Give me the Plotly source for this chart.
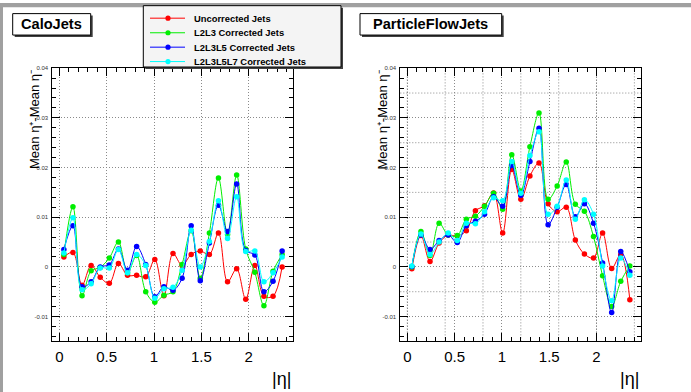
import plotly.graph_objects as go

W, H = 691, 392

# |eta| bin centres (25 bins of width 0.096 between 0 and 2.4)
eta = [0.048, 0.144, 0.240, 0.336, 0.432, 0.528, 0.624, 0.720, 0.816, 0.912,
       1.008, 1.104, 1.200, 1.296, 1.392, 1.488, 1.584, 1.680, 1.776, 1.872,
       1.968, 2.064, 2.160, 2.256, 2.352]

series_names = ["Uncorrected Jets", "L2L3 Corrected Jets",
                "L2L3L5 Corrected Jets", "L2L3L5L7 Corrected Jets"]
series_colors = ["#ff0000", "#00ee00", "#0000ff", "#00ffff"]

# CaloJets: Mean eta+ - Mean eta-
calo_uncorr = [0.0020, 0.0029, -0.0037, 0.0003, -0.0021, -0.0033, 0.0007, -0.0017, -0.0017, -0.0020,
               0.0015, -0.0058, 0.0027, 0.0003, 0.0025, 0.0032, 0.0025, 0.0068, -0.0030, -0.0004,
               -0.0065, 0.0003, -0.0059, -0.0059, 0.0000]
calo_l2l3 = [0.0025, 0.0121, -0.0058, -0.0008, -0.0001, 0.0018, 0.0050, -0.0012, 0.0023, -0.0050,
             -0.0071, -0.0057, -0.0050, 0.0005, 0.0073, -0.0023, 0.0068, 0.0179, 0.0065, 0.0185,
             0.0036, -0.0011, -0.0078, -0.0009, 0.0025]
calo_l2l3l5 = [0.0035, 0.0083, -0.0040, -0.0030, 0.0000, 0.0004, 0.0036, -0.0007, 0.0041, 0.0005,
               -0.0060, -0.0040, -0.0047, -0.0023, 0.0083, -0.0028, 0.0048, 0.0124, 0.0071, 0.0167,
               0.0033, 0.0024, -0.0050, -0.0029, 0.0032]
calo_l2l3l5l7 = [0.0028, 0.0099, -0.0046, -0.0034, -0.0002, -0.0002, 0.0035, -0.0012, 0.0025, 0.0003,
                 -0.0063, -0.0044, -0.0041, -0.0007, 0.0074, 0.0000, 0.0051, 0.0133, 0.0057, 0.0141,
                 0.0031, 0.0032, -0.0030, -0.0012, 0.0020]

# ParticleFlowJets: Mean eta+ - Mean eta-
pf_uncorr = [-0.0004, 0.0063, 0.0011, 0.0048, 0.0064, 0.0062, 0.0073, 0.0113, 0.0123, 0.0149,
             0.0068, 0.0196, 0.0136, 0.0183, 0.0209, 0.0127, 0.0111, 0.0120, 0.0054, 0.0026,
             0.0018, 0.0068, -0.0003, 0.0025, -0.0066]
pf_l2l3 = [0.0000, 0.0071, 0.0023, 0.0088, 0.0064, 0.0063, 0.0096, 0.0102, 0.0122, 0.0148,
           0.0116, 0.0226, 0.0153, 0.0242, 0.0310, 0.0136, 0.0163, 0.0211, 0.0126, 0.0112,
           0.0061, -0.0018, -0.0080, -0.0029, 0.0002]
pf_l2l3l5 = [0.0001, 0.0064, 0.0035, 0.0053, 0.0064, 0.0049, 0.0083, 0.0092, 0.0106, 0.0141,
             0.0122, 0.0204, 0.0144, 0.0212, 0.0279, 0.0085, 0.0120, 0.0166, 0.0101, 0.0127,
             0.0088, 0.0008, -0.0092, 0.0031, -0.0010]
pf_l2l3l5l7 = [0.0002, 0.0066, 0.0025, 0.0050, 0.0068, 0.0053, 0.0088, 0.0087, 0.0111, 0.0139,
               0.0133, 0.0212, 0.0148, 0.0224, 0.0272, 0.0106, 0.0122, 0.0175, 0.0096, 0.0135,
               0.0106, 0.0002, -0.0068, 0.0018, -0.0017]

x_tickvals = [0, 0.5, 1, 1.5, 2]
x_ticktext = ["0", "0.5", "1", "1.5", "2"]
y_tickvals = [-0.01, 0, 0.01, 0.02, 0.03, 0.04]
y_ticktext = ["-0.01", "0", "0.01", "0.02", "0.03", "0.04"]

Y_TITLE = "Mean \u03b7\u207a-Mean \u03b7\u207b"
X_TITLE = "|\u03b7|"

X_RANGE = [-0.074, 2.470]
Y_RANGE = [-0.015, 0.040]

FONT = "Liberation Sans, Arial, Helvetica, sans-serif"
GRID = "#8a8a8a"
GRID_DASH = "1px,2px"


def px_x(p):
    return p / W


def px_y(p):
    return 1 - p / H


fig = go.Figure()

panels = [
    ("x", "y", [calo_uncorr, calo_l2l3, calo_l2l3l5, calo_l2l3l5l7]),
    ("x2", "y2", [pf_uncorr, pf_l2l3, pf_l2l3l5, pf_l2l3l5l7]),
]
for xa, ya, data in panels:
    for name, color, vals in zip(series_names, series_colors, data):
        fig.add_trace(go.Scatter(
            x=eta, y=vals, xaxis=xa, yaxis=ya, name=name, showlegend=False,
            mode="lines+markers",
            line=dict(color=color, width=1, shape="spline", smoothing=1.0),
            marker=dict(color=color, size=5.5, symbol="circle"),
            hoverinfo="skip",
        ))

frame_top, frame_bot = 65.7, 341.0
domains_x = [(52.3, 293.3), (400.3, 641.0)]


def xaxis_cfg(dom):
    return dict(
        domain=[px_x(dom[0]), px_x(dom[1])], range=X_RANGE,
        showline=True, linecolor="black", linewidth=1, mirror="ticks",
        ticks="inside", ticklen=8, tickcolor="black", tickwidth=1,
        tickvals=x_tickvals, ticktext=x_ticktext,
        tickfont=dict(family=FONT, size=15, color="black"),
        ticklabelstandoff=2,
        showgrid=True, gridcolor=GRID, griddash=GRID_DASH, gridwidth=1,
        zeroline=False,
        minor=dict(ticks="inside", ticklen=4, dtick=0.1, tick0=0, tickcolor="black", showgrid=False),
    )


def yaxis_cfg(anchor):
    return dict(
        domain=[px_y(frame_bot), px_y(frame_top)], range=Y_RANGE, anchor=anchor,
        showline=True, linecolor="black", linewidth=1, mirror="ticks",
        ticks="inside", ticklen=8, tickcolor="black", tickwidth=1,
        tickvals=y_tickvals, ticktext=y_ticktext,
        tickfont=dict(family=FONT, size=6, color="#333333"),
        ticklabelstandoff=2,
        showgrid=True, gridcolor=GRID, griddash=GRID_DASH, gridwidth=1,
        zeroline=False,
        minor=dict(ticks="inside", ticklen=4, dtick=0.002, tick0=0, tickcolor="black", showgrid=False),
    )


shapes = []
annotations = []

# extra dotted grid in the ParticleFlowJets frame
for gx in [0.0, 0.4, 0.8, 1.2, 1.6, 2.0, 2.4]:
    shapes.append(dict(type="line", xref="x2", yref="y2 domain", x0=gx, x1=gx, y0=0, y1=1,
                       line=dict(color=GRID, width=1, dash=GRID_DASH), layer="below"))
for gy in [-0.005, 0.005, 0.015, 0.025, 0.035]:
    shapes.append(dict(type="line", xref="x2 domain", yref="y2", x0=0, x1=1, y0=gy, y1=gy,
                       line=dict(color=GRID, width=1, dash=GRID_DASH), layer="below"))

# canvas border
BORDER = "#a0a0a0"
shapes.append(dict(type="rect", xref="paper", yref="paper", x0=0, x1=1, y0=px_y(4.3), y1=1,
                   line=dict(width=0), fillcolor=BORDER, layer="below"))
shapes.append(dict(type="rect", xref="paper", yref="paper", x0=0, x1=px_x(3), y0=0, y1=1,
                   line=dict(width=0), fillcolor=BORDER, layer="below"))


def boxed(x0, y0, x1, y1, fill="white"):
    shapes.append(dict(type="rect", xref="paper", yref="paper",
                       x0=px_x(x0 + 2), x1=px_x(x1 + 2), y0=px_y(y1 + 2), y1=px_y(y0 + 2),
                       line=dict(width=0), fillcolor="#404040"))
    shapes.append(dict(type="rect", xref="paper", yref="paper",
                       x0=px_x(x0), x1=px_x(x1), y0=px_y(y1), y1=px_y(y0),
                       line=dict(color="black", width=1), fillcolor=fill))


# panel titles
for (x0, y0, x1, y1), text in [((12.7, 10.7, 90.7, 32.3), "CaloJets"),
                               ((360.0, 10.7, 501.7, 32.3), "ParticleFlowJets")]:
    boxed(x0, y0, x1, y1)
    annotations.append(dict(xref="paper", yref="paper", x=px_x((x0 + x1) / 2), y=px_y((y0 + y1) / 2),
                            text="<b>%s</b>" % text, showarrow=False, xanchor="center", yanchor="middle",
                            font=dict(family=FONT, size=14.6, color="black")))

# legend
boxed(143.3, 2.7, 341.0, 64.5, fill="#f4f4f4")
leg_rows = [15.3, 30.0, 44.5, 59.0]
for name, color, ry in zip(series_names, series_colors, leg_rows):
    shapes.append(dict(type="line", xref="paper", yref="paper", x0=px_x(150), x1=px_x(185),
                       y0=px_y(ry), y1=px_y(ry), line=dict(color=color, width=1)))
    shapes.append(dict(type="circle", xref="paper", yref="paper", xsizemode="pixel", ysizemode="pixel",
                       xanchor=px_x(168), yanchor=px_y(ry), x0=-2.6, x1=2.6, y0=-2.6, y1=2.6,
                       line=dict(color=color, width=0), fillcolor=color))
    annotations.append(dict(xref="paper", yref="paper", x=px_x(191.5), y=px_y(ry), text="<b>%s</b>" % name,
                            showarrow=False, xanchor="left", yanchor="middle",
                            font=dict(family=FONT, size=9.4, color="black")))

# axis titles
for cx, xr in [(35.0, 293.3), (382.5, 641.0)]:
    annotations.append(dict(xref="paper", yref="paper", x=px_x(cx), y=px_y(66.0),
                            text=Y_TITLE, textangle=-90,
                            showarrow=False, xanchor="center", yanchor="top",
                            font=dict(family=FONT, size=13, color="black")))
    annotations.append(dict(xref="paper", yref="paper", x=px_x(xr), y=px_y(379.0), text=X_TITLE,
                            showarrow=False, xanchor="right", yanchor="middle",
                            font=dict(family=FONT, size=18, color="black")))

fig.update_layout(
    width=W, height=H, margin=dict(l=0, r=0, t=0, b=0),
    paper_bgcolor="white", plot_bgcolor="white", showlegend=False,
    xaxis=xaxis_cfg(domains_x[0]), yaxis=yaxis_cfg("x"),
    xaxis2=dict(xaxis_cfg(domains_x[1]), anchor="y2"), yaxis2=yaxis_cfg("x2"),
    shapes=shapes, annotations=annotations,
)
fig.update_layout(xaxis=dict(anchor="y"))

fig.write_html("out.html")
